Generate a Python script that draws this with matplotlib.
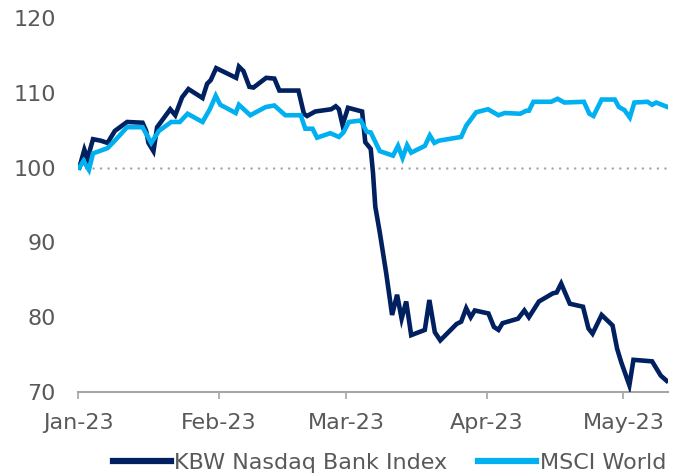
import matplotlib
matplotlib.use("Agg")
import matplotlib.pyplot as plt
from datetime import date

# Days since 1 Jan 2023 and index values (rebased to 100)
kbw_days = [0.3, 1.4, 2.1, 3.3, 5.0, 6.5, 8.1, 10.8, 14.2, 15.0, 15.5, 16.6, 17.4, 20.3, 21.4,
            22.9, 24.3, 27.4, 28.4, 29.2, 30.4, 34.8, 35.4, 36.4, 37.7, 38.6, 41.4, 43.2, 44.3,
            48.5, 49.7, 50.4, 52.2, 55.7, 56.7, 57.4, 58.2, 59.4, 62.5, 63.2, 64.4, 64.9, 65.4,
            66.4, 67.8, 69.1, 70.2, 71.2, 72.2, 73.3, 76.3, 77.3, 78.5, 79.7, 83.3, 84.3, 85.4,
            86.4, 87.3, 90.3, 91.5, 92.5, 93.4, 96.8, 98.2, 99.2, 101.4, 104.5, 105.3, 106.3,
            108.2, 111.1, 112.3, 113.2, 115.2, 117.6, 118.6, 119.5, 121.3, 122.2, 126.3, 128.2,
            129.5]
kbw_vals = [100.0, 102.4, 101.2, 103.8, 103.6, 103.3, 104.9, 106.1, 106.0, 104.9, 103.3, 102.2,
            105.4, 107.8, 107.0, 109.4, 110.5, 109.3, 111.2, 111.7, 113.3, 112.0, 113.5, 112.9,
            110.8, 110.7, 112.0, 111.9, 110.3, 110.3, 107.2, 106.9, 107.5, 107.8, 108.2, 107.8,
            105.7, 108.0, 107.5, 103.4, 102.5, 99.3, 94.8, 91.3, 85.9, 80.3, 83.0, 79.8, 82.1,
            77.6, 78.3, 82.3, 78.0, 76.9, 79.1, 79.4, 81.2, 80.0, 80.9, 80.5, 78.7, 78.3, 79.2,
            79.8, 80.9, 80.0, 82.1, 83.2, 83.3, 84.5, 81.8, 81.4, 78.5, 77.8, 80.3, 78.9, 75.8,
            74.0, 70.9, 74.3, 74.1, 72.2, 71.5]

msci_days = [0.3, 1.2, 2.4, 3.3, 6.5, 8.1, 10.8, 14.2, 16.1, 17.8, 20.5, 22.4, 24.1, 27.4, 29.0,
             30.3, 31.3, 34.7, 35.4, 37.9, 41.3, 43.2, 45.6, 49.0, 50.0, 51.6, 52.6, 55.5, 57.4,
             58.4, 59.6, 62.2, 63.5, 64.4, 66.4, 69.3, 70.4, 71.4, 72.4, 73.3, 76.3, 77.4, 78.4,
             79.4, 84.3, 85.4, 87.6, 90.2, 92.5, 93.9, 97.3, 98.6, 99.2, 100.2, 104.1, 105.5,
             107.0, 111.3, 112.5, 113.4, 115.2, 118.1, 119.0, 120.2, 121.4, 122.4, 125.3, 126.3,
             127.2, 129.7]
msci_vals = [100.0, 100.9, 99.7, 101.9, 102.6, 103.6, 105.4, 105.4, 103.3, 104.9, 106.1, 106.1,
             107.2, 106.1, 107.8, 109.6, 108.4, 107.3, 108.4, 107.0, 108.1, 108.3, 107.0, 107.0,
             105.2, 105.2, 104.0, 104.6, 104.1, 104.7, 106.1, 106.3, 104.8, 104.7, 102.2, 101.6,
             102.9, 101.3, 103.0, 102.0, 102.9, 104.3, 103.3, 103.6, 104.1, 105.6, 107.4, 107.8,
             107.0, 107.3, 107.2, 107.6, 107.6, 108.8, 108.8, 109.2, 108.7, 108.8, 107.2, 106.9,
             109.1, 109.1, 108.1, 107.7, 106.7, 108.7, 108.8, 108.4, 108.7, 108.1]

tick_dates = [date(2023, 1, 1), date(2023, 2, 1), date(2023, 3, 1), date(2023, 4, 1), date(2023, 5, 1)]
tick_labels = ["Jan-23", "Feb-23", "Mar-23", "Apr-23", "May-23"]
y_ticks = [70, 80, 90, 100, 110, 120]
series_names = ["KBW Nasdaq Bank Index", "MSCI World"]

NAVY = "#002060"
LIGHT = "#00B0F0"
GREY_TXT = "#595959"
GREY_LINE = "#A6A6A6"

fig = plt.figure(figsize=(6.81, 4.74), dpi=100)
ax = fig.add_axes([78 / 681, 1 - 392 / 474, (668 - 78) / 681, (392 - 18) / 474])

ax.plot(kbw_days, kbw_vals, color=NAVY, lw=3.3, solid_joinstyle="miter", label=series_names[0], zorder=3)
ax.plot(msci_days, msci_vals, color=LIGHT, lw=3.3, solid_joinstyle="miter", label=series_names[1], zorder=4)
ax.axhline(100, color=GREY_LINE, lw=1.8, linestyle=(0, (0.01, 3.0)), dash_capstyle="round", zorder=2)

base = date(2023, 1, 1)
ax.set_xticks([(d - base).days for d in tick_dates])
ax.set_xticklabels(tick_labels)
ax.set_yticks(y_ticks)
ax.set_xlim(0, 129.8)
ax.set_ylim(70, 120)

for s in ["top", "right", "left"]:
    ax.spines[s].set_visible(False)
ax.spines["bottom"].set_color(GREY_LINE)
ax.spines["bottom"].set_linewidth(1.5)
ax.spines["bottom"].set_zorder(1)

ax.tick_params(axis="x", direction="out", length=5, width=1.2, color=GREY_LINE,
               labelsize=16, labelcolor=GREY_TXT, pad=10)
ax.tick_params(axis="y", length=0, labelsize=16, labelcolor=GREY_TXT, pad=16)

fig.legend(loc="center", bbox_to_anchor=(389.5 / 681, 1 - 463 / 474), ncol=2, frameon=False,
           fontsize=16, labelcolor=GREY_TXT, handlelength=2.6, handletextpad=0.15,
           columnspacing=1.4, borderpad=0, borderaxespad=0)
for lh in fig.legends[0].get_lines():
    lh.set_linewidth(4.5)

fig.savefig("out.png", dpi=100)
